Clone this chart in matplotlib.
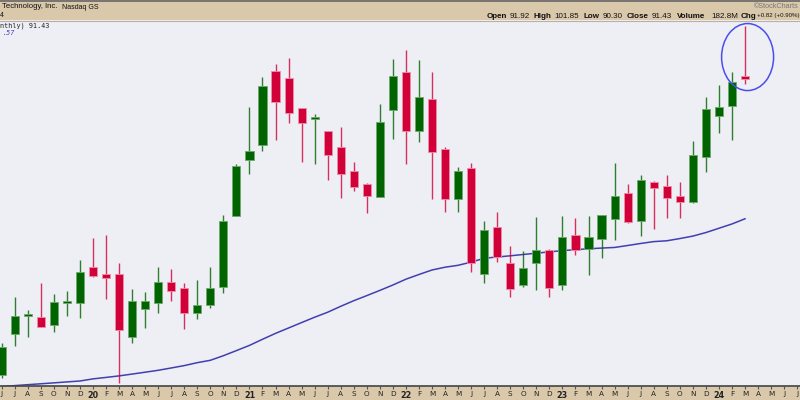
import matplotlib
matplotlib.use("Agg")
import matplotlib.pyplot as plt
from matplotlib.patches import Rectangle, Ellipse
import numpy as np

# ---------------- data (monthly candles, Jun 2019 .. Mar 2024) ----------------
months = ["Jun19", "Jul19", "Aug19", "Sep19", "Oct19", "Nov19", "Dec19",
          "Jan20", "Feb20", "Mar20", "Apr20", "May20", "Jun20", "Jul20", "Aug20", "Sep20", "Oct20", "Nov20", "Dec20",
          "Jan21", "Feb21", "Mar21", "Apr21", "May21", "Jun21", "Jul21", "Aug21", "Sep21", "Oct21", "Nov21", "Dec21",
          "Jan22", "Feb22", "Mar22", "Apr22", "May22", "Jun22", "Jul22", "Aug22", "Sep22", "Oct22", "Nov22", "Dec22",
          "Jan23", "Feb23", "Mar23", "Apr23", "May23", "Jun23", "Jul23", "Aug23", "Sep23", "Oct23", "Nov23", "Dec23",
          "Jan24", "Feb24", "Mar24"]
opens = [32.75, 40.81, 44.49, 44.17, 42.65, 47.01, 47.01,
         54.19, 52.69, 52.69, 40.21, 45.82, 47.01, 51.10, 49.92, 44.97, 46.55, 50.23, 64.29,
         75.32, 78.35, 92.94, 91.50, 85.56, 83.50, 81.06, 77.83, 73.20, 70.51, 68.05, 85.16,
         92.68, 81.12, 87.40, 77.44, 67.54, 73.68, 52.81, 61.99, 54.87, 50.63, 54.87, 57.56,
         50.51, 60.41, 57.64, 59.68, 63.70, 68.85, 63.24, 71.02, 70.17, 68.25, 67.00, 75.97,
         84.03, 86.01, 91.92]
highs = [39.09, 48.25, 45.62, 51.03, 48.79, 49.44, 55.52,
         59.93, 60.47, 54.99, 49.72, 49.18, 54.19, 53.68, 51.03, 51.56, 54.19, 64.43, 74.53,
         85.87, 91.69, 94.33, 95.46, 85.60, 84.43, 81.10, 81.79, 74.86, 70.71, 86.41, 95.32,
         97.10, 95.12, 92.80, 77.95, 74.00, 74.67, 63.24, 64.96, 58.35, 57.30, 64.09, 57.70,
         64.23, 63.78, 64.23, 64.50, 74.67, 70.51, 72.35, 71.10, 72.35, 70.90, 79.08, 87.85,
         90.17, 92.80, 101.85]
lows = [32.16, 38.49, 40.33, 42.19, 41.32, 44.49, 44.10,
        52.09, 47.80, 31.17, 39.03, 42.00, 45.09, 47.40, 41.80, 43.90, 45.96, 48.93, 64.29,
        72.55, 77.16, 79.22, 82.59, 74.98, 74.53, 71.36, 67.74, 69.24, 64.89, 68.00, 79.42,
        74.59, 78.82, 67.54, 65.08, 65.08, 53.08, 50.91, 55.06, 48.19, 50.11, 49.62, 48.25,
        49.52, 56.57, 52.61, 55.86, 59.48, 62.79, 60.33, 61.72, 63.78, 63.90, 66.90, 73.00,
        80.61, 79.28, 90.30]
closes = [38.35, 44.49, 44.89, 42.31, 47.14, 47.27, 53.20,
          52.35, 51.90, 41.66, 47.40, 47.40, 51.10, 49.44, 44.97, 46.55, 49.92, 63.24, 74.13,
          77.10, 90.03, 86.80, 84.63, 82.71, 83.64, 76.31, 72.55, 69.97, 68.25, 82.78, 91.95,
          81.12, 87.73, 76.90, 67.54, 73.08, 54.87, 61.46, 56.17, 49.78, 53.88, 57.44, 49.98,
          60.13, 57.50, 60.13, 64.37, 68.13, 62.98, 71.30, 69.84, 67.86, 66.95, 76.25, 85.36,
          85.75, 90.70, 91.43]
# moving average (starts one month before first candle: May 2019)
ma_values = [30.27, 30.45, 30.65, 30.83, 31.01, 31.19, 31.38, 31.56,
             31.98, 32.27, 32.57, 32.93, 33.30, 33.68, 34.14, 34.61, 35.19, 35.66, 36.57, 37.58,
             38.61, 39.82, 40.99, 42.06, 43.13, 44.19, 45.18, 46.35, 47.46, 48.47, 49.50, 50.57,
             51.72, 52.65, 53.54, 54.09, 54.47, 55.10, 55.86, 56.11, 56.35, 56.61, 56.87, 57.12,
             57.38, 57.56, 57.74, 57.88, 58.00, 58.39, 58.79, 59.16, 59.32, 59.76, 60.25, 60.95,
             61.80, 62.65, 63.68]
tick_labels = ["J", "J", "A", "S", "O", "N", "D",
               "20", "F", "M", "A", "M", "J", "J", "A", "S", "O", "N", "D",
               "21", "F", "M", "A", "M", "J", "J", "A", "S", "O", "N", "D",
               "22", "F", "M", "A", "M", "J", "J", "A", "S", "O", "N", "D",
               "23", "F", "M", "A", "M", "J", "J", "A", "S", "O", "N", "D",
               "24", "F", "M", "A", "M", "J", "J"]

# ---------------- layout ----------------
W, H = 800, 400
BG = "#EEEEF5"
TAN = "#D9C8AA"
GREEN = "#006400"
RED = "#D20038"

fig = plt.figure(figsize=(8, 4), dpi=100)
fig.patch.set_facecolor(BG)

top_px, bot_px = 21, 386
ax = fig.add_axes([0, (H - bot_px) / H, 1, (bot_px - top_px) / H])
ax.set_facecolor(BG)

x0_px, step_px = 1.7, 13.04
ax.set_xlim((0 - x0_px) / step_px, (W - x0_px) / step_px)
ax.set_ylim(30.57, 102.84)

n = len(opens)
xs = np.arange(n)
o = np.array(opens); c = np.array(closes); hi = np.array(highs); lo = np.array(lows)
up = c >= o
cols = np.where(up, GREEN, RED)
edge = np.where(up, "#6FA86F", "#EE8FA8")

ax.vlines(xs, lo, hi, colors=cols, linewidth=1.0, alpha=0.8, zorder=2)
bottoms = np.minimum(o, c)
heights = np.maximum(np.abs(c - o), 0.3)
ax.bar(xs, heights, bottom=bottoms, width=0.62, color=cols, edgecolor=edge,
       linewidth=0.6, zorder=3)

ma_x = np.arange(-1, n)
ax.plot(ma_x, ma_values, color="#4040B0", linewidth=1.1, zorder=1)

# highlight ellipse around last candle
ax.add_patch(Ellipse((n - 1 + 0.2, 95.7), width=52 / step_px, height=67 * 0.198,
                     fill=False, edgecolor="#4C4CF0", linewidth=1.1, zorder=4))

for s in ["top", "left", "right"]:
    ax.spines[s].set_visible(False)
ax.spines["bottom"].set_color("#444444")
ax.spines["bottom"].set_linewidth(1.2)
ax.set_yticks([])
ax.set_xticks(np.arange(len(tick_labels)))
ax.set_xticklabels(tick_labels, fontsize=5.2, color="#222222", family="DejaVu Sans")
for lab in ax.get_xticklabels():
    if lab.get_text().isdigit():
        lab.set_fontweight("bold")
        lab.set_fontsize(5.8)
ax.tick_params(axis="x", direction="out", length=2, width=0.8, color="#555555", pad=1.5)

# bands
fig.patches.append(Rectangle((0, 0), 1, (H - bot_px) / H, transform=fig.transFigure,
                             facecolor=TAN, edgecolor="none", zorder=-1))
fig.patches.append(Rectangle((0, (H - 20) / H), 1, 20 / H, transform=fig.transFigure,
                             facecolor=TAN, edgecolor="none", zorder=-1))
fig.add_artist(plt.Line2D([0, 1], [1 - 0.6 / H, 1 - 0.6 / H], transform=fig.transFigure,
                          color="#666666", linewidth=1.2))
fig.add_artist(plt.Line2D([0, 1], [(H - 20.5) / H, (H - 20.5) / H], transform=fig.transFigure,
                          color="#BBB0A0", linewidth=0.8))

def ftext(x, y, s, **kw):
    fig.text(x / W, 1 - y / H, s, va="center", **kw)

# header texts (only the parts visible in the frame)
ftext(2, 7, "Technology, Inc.", ha="left", fontsize=5.6, family="Liberation Sans", color="#111111")
ftext(62, 7.5, "Nasdaq GS", ha="left", fontsize=5.0, family="Liberation Sans", color="#111111")
ftext(0.3, 15.5, "4", ha="left", fontsize=5.0, family="Liberation Sans", color="#111111")
ftext(754, 6, "\u00a9StockCharts", ha="left", fontsize=5.2, family="Liberation Sans", color="#777777")

hdr = [(487, "Open", True), (510, "91.92", False), (534, "High", True), (554, "101.85", False),
       (583, "Low", True), (603, "90.30", False), (627, "Close", True), (652, "91.43", False),
       (677, "Volume", True), (711, "182.8M", False), (741, "Chg", True)]
for x, s, b in hdr:
    ftext(x, 16, s, ha="left", fontsize=5.8, family="Liberation Sans",
          fontweight="bold" if b else "normal", color="#111111")
ftext(799.5, 16, "+0.82 (+0.90%)", ha="right", fontsize=4.4, family="Liberation Sans", color="#111111")

ftext(0, 25.5, "nthly) 91.43", ha="left", fontsize=4.9, family="DejaVu Sans Mono", color="#222222")
ftext(2.5, 33, ".57", ha="left", fontsize=4.9, family="DejaVu Sans Mono", color="#4040C0",
      style="italic")

fig.savefig("out.png", dpi=100, facecolor=fig.get_facecolor())
